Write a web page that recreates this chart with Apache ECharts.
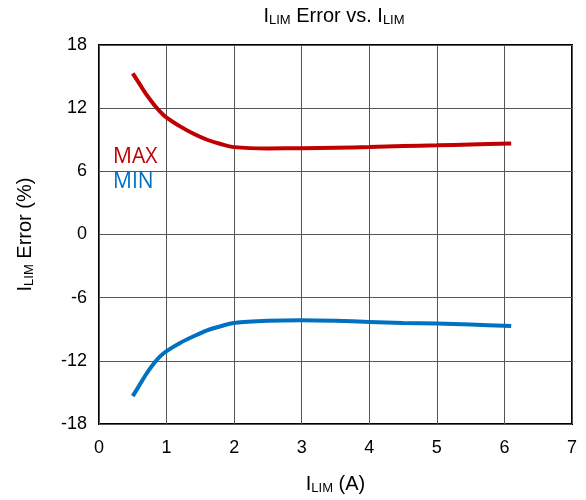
<!DOCTYPE html>
<html>
<head>
<meta charset="utf-8">
<script src="https://cdn.jsdelivr.net/npm/echarts@6/dist/echarts.min.js"></script>
<style>
  html, body { margin: 0; padding: 0; background: #fff; }
  #chart { width: 586px; height: 500px; }
</style>
</head>
<body>
<div id="chart"></div>
<script>
// Current limit (A) sample points
const currentA = [0.5, 0.6, 0.7, 0.8, 0.9, 1.0, 1.2, 1.4, 1.6, 1.8, 2.0, 2.5, 3.0, 3.5, 4.0, 4.5, 5.0, 5.5, 6.1];
// Upper bound of the current-limit error (%)
const maxError = [15.3, 14.3, 13.3, 12.45, 11.7, 11.1, 10.27, 9.57, 9.0, 8.6, 8.3, 8.18, 8.2, 8.25, 8.3, 8.4, 8.47, 8.55, 8.65];
// Lower bound of the current-limit error (%)
const minError = [-15.35, -14.3, -13.25, -12.35, -11.6, -11.07, -10.3, -9.67, -9.1, -8.71, -8.4, -8.2, -8.15, -8.2, -8.3, -8.4, -8.45, -8.55, -8.7];
// Axis ranges / ticks
const xTicks = [0, 1, 2, 3, 4, 5, 6, 7];
const yTicks = [-18, -12, -6, 0, 6, 12, 18];

const pairs = (xs, ys) => xs.map((x, i) => [x, ys[i]]);
const tickFont = 'Liberation Sans, Arial, sans-serif';
const subRich = {
  sub: { fontSize: 13, verticalAlign: 'bottom', padding: [9, 0, 0, 0], fontFamily: tickFont, color: '#000' }
};

const chart = echarts.init(document.getElementById('chart'), null, { renderer: 'canvas' });
chart.setOption({
  animation: false,
  backgroundColor: '#fff',
  title: {
    text: 'I{sub|LIM} Error vs. I{sub|LIM}',
    left: 329,
    textAlign: 'center',
    top: 0,
    textStyle: {
      fontFamily: tickFont, fontSize: 20, fontWeight: 'normal', color: '#000',
      rich: subRich
    }
  },
  grid: {
    left: 99, right: 14, top: 45, bottom: 76,
    show: true, borderColor: '#000', borderWidth: 2, backgroundColor: 'transparent'
  },
  xAxis: {
    type: 'value',
    min: xTicks[0], max: xTicks[xTicks.length - 1], interval: 1,
    name: 'I{sub|LIM} (A)',
    nameLocation: 'middle',
    nameGap: 49,
    nameTextStyle: { fontFamily: tickFont, fontSize: 20, color: '#000', rich: subRich },
    axisLine: { show: false },
    axisTick: { show: false },
    axisLabel: { fontFamily: tickFont, fontSize: 18, color: '#000', margin: 15 },
    splitLine: { show: true, lineStyle: { color: '#555', width: 1 } }
  },
  yAxis: {
    type: 'value',
    min: yTicks[0], max: yTicks[yTicks.length - 1], interval: 6,
    name: 'I{sub|LIM} Error (%)',
    nameLocation: 'middle',
    nameGap: 63,
    nameRotate: 90,
    nameTextStyle: { fontFamily: tickFont, fontSize: 20, color: '#000', rich: subRich },
    axisLine: { show: false },
    axisTick: { show: false },
    axisLabel: { fontFamily: tickFont, fontSize: 18, color: '#000', margin: 12 },
    splitLine: { show: true, lineStyle: { color: '#555', width: 1 } }
  },
  graphic: [
    {
      type: 'group', left: 113, top: 143, z: 100,
      children: [
        { type: 'rect', shape: { x: 2, y: 0, width: 57, height: 54 }, style: { fill: '#fff' } },
        { type: 'text', x: 0, y: 4, style: { text: 'MAX', fill: '#c00000', font: '21px "Open Sans", sans-serif' } },
        { type: 'text', x: 0, y: 29, style: { text: 'MIN', fill: '#0070c0', font: '21px "Open Sans", sans-serif' } }
      ]
    }
  ],
  series: [
    {
      name: 'MAX', type: 'line', data: pairs(currentA, maxError),
      smooth: 0.3, showSymbol: false,
      lineStyle: { color: '#c00000', width: 4 }, z: 5
    },
    {
      name: 'MIN', type: 'line', data: pairs(currentA, minError),
      smooth: 0.3, showSymbol: false,
      lineStyle: { color: '#0070c0', width: 4 }, z: 5
    }
  ]
});
</script>
</body>
</html>
